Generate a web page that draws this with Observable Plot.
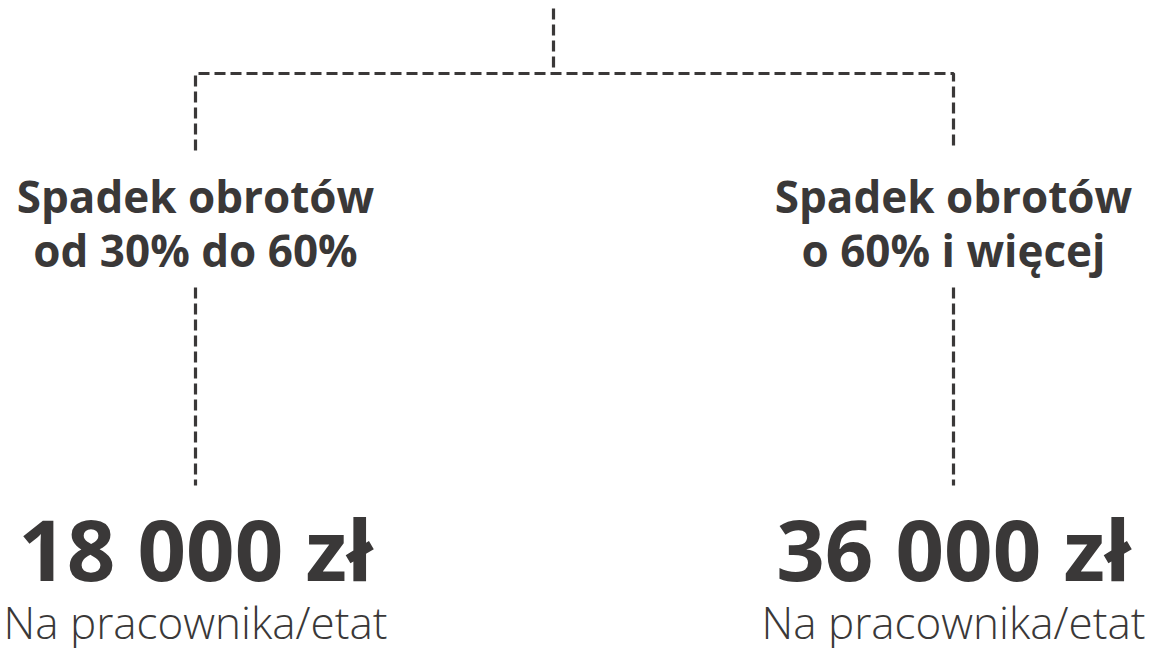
<!DOCTYPE html>
<html>
<head>
<meta charset="utf-8">
<script src="https://cdn.jsdelivr.net/npm/d3@7"></script>
<script src="https://cdn.jsdelivr.net/npm/@observablehq/plot@0.6"></script>
<style>
  html, body { margin: 0; padding: 0; background: #ffffff; }
  #chart { width: 1166px; height: 648px; }
</style>
</head>
<body>
<div id="chart"></div>
<script>
// ---- data ----
const branches = ["Spadek obrotów\nod 30% do 60%", "Spadek obrotów\no 60% i więcej"];
const amounts = [18000, 36000];
const currency = "zł";
const unitLabel = "Na pracownika/etat";

// ---- layout (pixel space) ----
const W = 1166, H = 648;
const branchX = [195, 953];
const rootX = 553;
const yRootTop = 8, yBar = 73, yBranchEnd = 150, yStemTop = 287, yStemBottom = 485;
const ink = "#3a3838";
const font = "Open Sans";

const fmt = v => d3.format(",")(v).replace(/,/g, " ") + " " + currency;

const nodes = branches.map((label, i) => ({label, amount: amounts[i], x: branchX[i]}));

// connector polylines
const paths = [];
paths.push({id: "root", x: rootX, y: yRootTop}, {id: "root", x: rootX, y: yBar});
paths.push(
  {id: "bar", x: branchX[0], y: yBranchEnd},
  {id: "bar", x: branchX[0], y: yBar},
  {id: "bar", x: branchX[1], y: yBar},
  {id: "bar", x: branchX[1], y: yBranchEnd}
);
nodes.forEach((n, i) => {
  paths.push({id: "stem" + i, x: n.x, y: yStemTop}, {id: "stem" + i, x: n.x, y: yStemBottom});
});

const chart = Plot.plot({
  width: W,
  height: H,
  margin: 0,
  style: {background: "#ffffff", fontFamily: font},
  x: {type: "linear", domain: [0, W], range: [0, W], axis: null},
  y: {type: "linear", domain: [0, H], range: [0, H], axis: null},
  marks: [
    Plot.line(paths, {x: "x", y: "y", z: "id", stroke: ink, strokeWidth: 3.2, strokeDasharray: "11,5", strokeLinejoin: "miter", strokeLinecap: "butt"}),
    Plot.text(nodes, {x: "x", y: () => 222, text: "label", fontSize: 44, fontWeight: 700, lineHeight: 1.22, fill: ink, textAnchor: "middle", lineAnchor: "middle", fontFamily: font}),
    Plot.text(nodes, {x: "x", y: () => 553, text: d => fmt(d.amount), fontSize: 85, fontWeight: 700, fill: ink, textAnchor: "middle", lineAnchor: "middle", fontFamily: font}),
    Plot.text(nodes, {x: "x", y: () => 624, text: () => unitLabel, fontSize: 44, fontWeight: 300, fill: ink, textAnchor: "middle", lineAnchor: "middle", fontFamily: font})
  ]
});
document.getElementById("chart").appendChild(chart);
</script>
</body>
</html>
